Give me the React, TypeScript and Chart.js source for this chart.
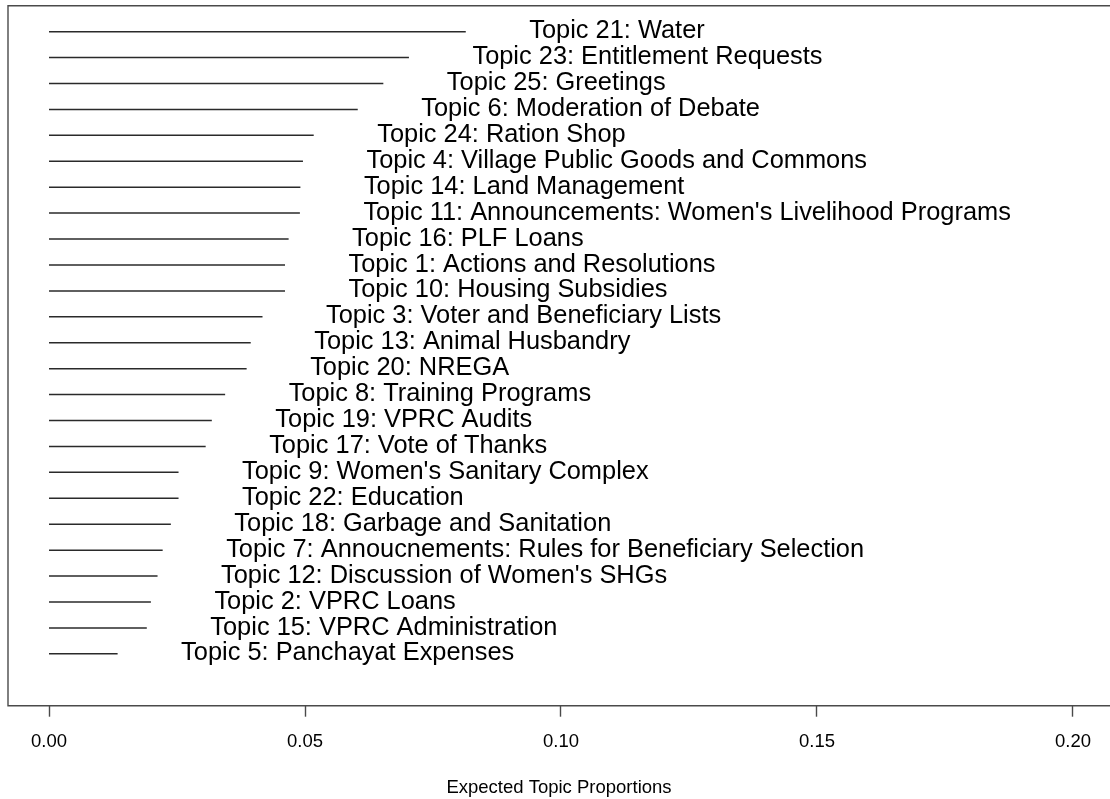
import React, { useEffect, useRef } from "react";
import { Chart, registerables } from "chart.js";

Chart.register(...registerables);

// Topics listed from the top row down to the bottom row
const TOPIC_LABELS: string[] = [
  "Topic 21: Water",
  "Topic 23: Entitlement Requests",
  "Topic 25: Greetings",
  "Topic 6: Moderation of Debate",
  "Topic 24: Ration Shop",
  "Topic 4: Village Public Goods and Commons",
  "Topic 14: Land Management",
  "Topic 11: Announcements: Women's Livelihood Programs",
  "Topic 16: PLF Loans",
  "Topic 1: Actions and Resolutions",
  "Topic 10: Housing Subsidies",
  "Topic 3: Voter and Beneficiary Lists",
  "Topic 13: Animal Husbandry",
  "Topic 20: NREGA",
  "Topic 8: Training Programs",
  "Topic 19: VPRC Audits",
  "Topic 17: Vote of Thanks",
  "Topic 9: Women's Sanitary Complex",
  "Topic 22: Education",
  "Topic 18: Garbage and Sanitation",
  "Topic 7: Annoucnements: Rules for Beneficiary Selection",
  "Topic 12: Discussion of Women's SHGs",
  "Topic 2: VPRC Loans",
  "Topic 15: VPRC Administration",
  "Topic 5: Panchayat Expenses",
];

// Expected topic proportions, same order as the labels
const PROPORTIONS: number[] = [
  0.0814, 0.0703, 0.0653, 0.0603, 0.0517, 0.0496, 0.0491, 0.049, 0.0468,
  0.0461, 0.0461, 0.0417, 0.0394, 0.0386, 0.0344, 0.0318, 0.0306, 0.0253,
  0.0253, 0.0238, 0.0222, 0.0212, 0.0199, 0.0191, 0.0134,
];

const X_TICKS: number[] = [0, 0.05, 0.1, 0.15, 0.2];
const X_TITLE = "Expected Topic Proportions";

const FONT = '"Liberation Sans", Arial, Helvetica, sans-serif';
const INK = "#000000";
const FRAME = "#4a4a4a";

export default function App() {
  const canvasRef = useRef<HTMLCanvasElement | null>(null);

  useEffect(() => {
    const canvas = canvasRef.current;
    if (!canvas) return;

    const n = TOPIC_LABELS.length;
    // row position: first topic sits at the top (y = n), last at y = 1
    const rowOf = (i: number) => n - i;

    const datasets = PROPORTIONS.map((v, i) => ({
      label: TOPIC_LABELS[i],
      data: [
        { x: 0, y: rowOf(i) },
        { x: v, y: rowOf(i) },
      ],
      showLine: true,
      borderColor: "#2a2a2a",
      borderWidth: 1.5,
      pointRadius: 0,
      pointHoverRadius: 0,
    }));

    // open frame: top, left and bottom sides; the right side lies off-canvas
    const framePlugin = {
      id: "frame",
      afterDraw(chart: Chart) {
        const { ctx, chartArea, width } = chart;
        const far = width + 40;
        ctx.save();
        ctx.strokeStyle = FRAME;
        ctx.lineWidth = 1.4;
        ctx.beginPath();
        ctx.moveTo(far, chartArea.top);
        ctx.lineTo(chartArea.left, chartArea.top);
        ctx.lineTo(chartArea.left, chartArea.bottom);
        ctx.lineTo(far, chartArea.bottom);
        ctx.stroke();
        ctx.restore();
      },
    };

    // topic names placed just right of each segment's end
    const labelPlugin = {
      id: "topicLabels",
      afterDatasetsDraw(chart: Chart) {
        const { ctx } = chart;
        const xs = chart.scales.x;
        const ys = chart.scales.y;
        ctx.save();
        ctx.font = `25.4px ${FONT}`;
        ctx.fillStyle = INK;
        ctx.textAlign = "left";
        ctx.textBaseline = "alphabetic";
        PROPORTIONS.forEach((v, i) => {
          const x = xs.getPixelForValue(v) + 63.5;
          const y = ys.getPixelForValue(rowOf(i)) + 6.6;
          ctx.fillText(TOPIC_LABELS[i], x, y);
        });
        ctx.restore();
      },
    };

    const chart = new Chart(canvas, {
      type: "scatter",
      data: { datasets },
      options: {
        animation: false,
        responsive: false,
        events: [],
        layout: { padding: { left: 8, top: 5.7, right: 0, bottom: 0 } },
        plugins: {
          legend: { display: false },
          tooltip: { enabled: false },
        },
        scales: {
          x: {
            type: "linear",
            min: -0.00801,
            max: 0.20723,
            afterBuildTicks: (scale: any) => {
              scale.ticks = X_TICKS.map((value) => ({ value }));
            },
            afterFit: (scale: any) => {
              scale.height = 93.3;
              scale.paddingLeft = 0;
              scale.paddingRight = 0;
            },
            border: { display: false },
            grid: {
              display: true,
              drawOnChartArea: false,
              drawTicks: true,
              tickLength: 11,
              color: FRAME,
              tickColor: FRAME,
              tickWidth: 1.4,
            },
            ticks: {
              color: INK,
              padding: 14,
              maxRotation: 0,
              autoSkip: false,
              font: { family: FONT, size: 18.5 },
              callback: (value: any) => Number(value).toFixed(2),
            },
            title: {
              display: true,
              text: X_TITLE,
              color: INK,
              font: { family: FONT, size: 18.5 },
              padding: { top: 0, bottom: 0 },
            },
          },
          y: {
            type: "linear",
            min: -1,
            max: n + 1,
            display: false,
          },
        },
      },
      plugins: [framePlugin, labelPlugin],
    });

    return () => {
      chart.destroy();
    };
  }, []);

  return (
    <div
      style={{
        position: "fixed",
        left: 0,
        top: 0,
        width: 1110,
        height: 799,
        background: "#ffffff",
      }}
    >
      <canvas
        ref={canvasRef}
        width={1110}
        height={799}
        style={{ display: "block", width: 1110, height: 799 }}
      />
    </div>
  );
}
